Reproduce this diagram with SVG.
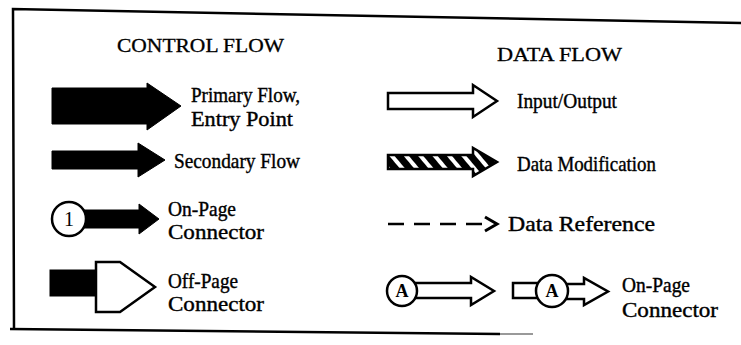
<svg xmlns="http://www.w3.org/2000/svg" width="741" height="345" viewBox="0 0 741 345">
  <style>
    .title { font-family: "Liberation Serif", "DejaVu Serif", serif; font-size: 19px; fill: #000; stroke: #000; stroke-width: 0.3; }
    .label { font-family: "Liberation Serif", "DejaVu Serif", serif; font-size: 21px; fill: #000; stroke: #000; stroke-width: 0.4; }
    .sym { font-family: "Liberation Serif", "DejaVu Serif", serif; font-size: 18px; font-weight: bold; fill: #000; text-anchor: middle; }
    .solid { fill: #000; stroke: #000; stroke-width: 1; stroke-linejoin: miter; }
    .hollow { fill: #fff; stroke: #000; stroke-width: 2.5; stroke-linejoin: miter; }
    .frame { fill: none; stroke: #000; stroke-width: 2.5; }
  </style>
  <defs>
    <pattern id="hatch" patternUnits="userSpaceOnUse" width="11" height="11" patternTransform="rotate(-40)">
      <rect width="11" height="11" fill="#000"/>
      <rect x="0" y="0" width="4" height="11" fill="#fff"/>
    </pattern>
  </defs>

  <!-- frame -->
  <g id="frame">
    <polyline class="frame" points="741,23 13,9 14,330"/>
    <line x1="10" y1="329" x2="500" y2="334" stroke="#000" stroke-width="2.5"/>
    <line x1="500" y1="334" x2="533" y2="334" stroke="#999" stroke-width="2"/>
  </g>

  <!-- column headings -->
  <text class="title" x="117" y="52" textLength="167" lengthAdjust="spacingAndGlyphs">CONTROL FLOW</text>
  <text class="title" x="497" y="61" textLength="125" lengthAdjust="spacingAndGlyphs">DATA FLOW</text>

  <!-- control flow symbols -->
  <g id="primary-flow">
    <path class="solid" d="M52,88 H147 V83 L181,106 L147,130 V124 H52 Z"/>
    <text class="label" x="191" y="102" textLength="109" lengthAdjust="spacingAndGlyphs">Primary Flow,</text>
    <text class="label" x="191" y="126" textLength="102" lengthAdjust="spacingAndGlyphs">Entry Point</text>
  </g>

  <g id="secondary-flow">
    <path class="solid" d="M52,151 H138 V143 L165,160 L138,177 V169 H52 Z"/>
    <text class="label" x="174" y="168" textLength="126" lengthAdjust="spacingAndGlyphs">Secondary Flow</text>
  </g>

  <g id="control-on-page">
    <path class="solid" d="M80,210 H139 V204 L159,219 L139,234 V228 H80 Z"/>
    <circle class="hollow" cx="69" cy="219" r="17"/>
    <text class="sym" x="69" y="226" style="font-weight:normal;font-size:20px">1</text>
    <text class="label" x="168" y="216" textLength="68" lengthAdjust="spacingAndGlyphs">On-Page</text>
    <text class="label" x="168" y="239" textLength="96" lengthAdjust="spacingAndGlyphs">Connector</text>
  </g>

  <g id="off-page">
    <rect class="solid" x="50" y="270" width="47" height="26"/>
    <path class="hollow" d="M96,262 H120 L155,287 L120,312 H96 Z"/>
    <text class="label" x="168" y="288" textLength="70" lengthAdjust="spacingAndGlyphs">Off-Page</text>
    <text class="label" x="168" y="311" textLength="96" lengthAdjust="spacingAndGlyphs">Connector</text>
  </g>

  <!-- data flow symbols -->
  <g id="input-output">
    <path class="hollow" d="M388,93 H473 V85 L497,101 L473,117 V109 H388 Z"/>
    <text class="label" x="517" y="108" textLength="100" lengthAdjust="spacingAndGlyphs">Input/Output</text>
  </g>

  <g id="data-modification">
    <path d="M388,155 H473 V148 L497,162 L473,176 V169 H388 Z" fill="url(#hatch)" stroke="#000" stroke-width="2.5"/>
    <text class="label" x="517" y="171" textLength="139" lengthAdjust="spacingAndGlyphs">Data Modification</text>
  </g>

  <g id="data-reference">
    <line x1="388" y1="224" x2="486" y2="224" stroke="#000" stroke-width="2.5" stroke-dasharray="16,10"/>
    <polyline points="485,217 497,224 485,231" fill="none" stroke="#000" stroke-width="3"/>
    <text class="label" x="508" y="231" textLength="147" lengthAdjust="spacingAndGlyphs">Data Reference</text>
  </g>

  <g id="data-on-page">
    <path class="hollow" d="M410,283 H471 V277 L494,291 L471,305 V298 H410 Z"/>
    <circle class="hollow" cx="402" cy="291" r="15"/>
    <text class="sym" x="402" y="297">A</text>
    <rect class="hollow" x="513" y="283" width="30" height="15"/>
    <path class="hollow" d="M560,284 H584 V278 L608,291.5 L584,305 V299 H560 Z"/>
    <circle class="hollow" cx="552" cy="291" r="16"/>
    <text class="sym" x="552" y="297">A</text>
    <text class="label" x="622" y="292" textLength="68" lengthAdjust="spacingAndGlyphs">On-Page</text>
    <text class="label" x="622" y="317" textLength="96" lengthAdjust="spacingAndGlyphs">Connector</text>
  </g>
</svg>
